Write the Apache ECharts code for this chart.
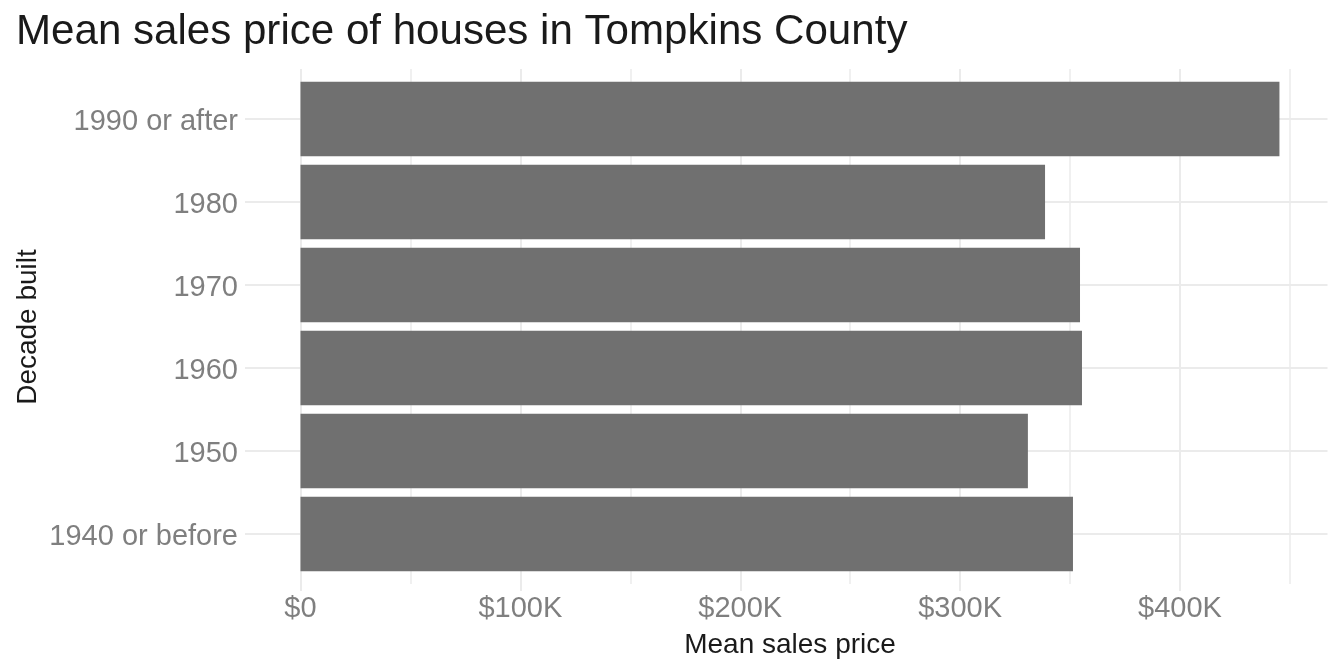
<!DOCTYPE html>
<html><head><meta charset="utf-8">
<script src="https://cdn.jsdelivr.net/npm/echarts@6/dist/echarts.min.js"></script>
<style>html,body{margin:0;padding:0;background:#fff}#c{width:1344px;height:672px}</style>
</head><body><div id="c"></div>
<script>
const categories = ['1940 or before', '1950', '1960', '1970', '1980', '1990 or after'];
const meanPrice = [351300, 330800, 355400, 354500, 338600, 445200];
const titleText = 'Mean sales price of houses in Tompkins County';
const xTitle = 'Mean sales price';
const yTitle = 'Decade built';

const FONT = "'Liberation Sans', Arial, Helvetica, sans-serif";
const GRID = '#EBEBEB';
const chart = echarts.init(document.getElementById('c'), null, {renderer: 'canvas'});
chart.setOption({
  animation: false,
  backgroundColor: '#ffffff',
  title: {
    text: titleText, left: 16, top: 11, padding: 0,
    textStyle: {fontFamily: FONT, fontSize: 42.1, fontWeight: 'normal', color: '#1a1a1a'}
  },
  grid: [
    {left: 300.5, right: 54, top: 69, bottom: 88},
    {left: 300.5, right: 164, top: 69, bottom: 88},
    {left: 245, right: 16.5, top: 77.5, bottom: 96.5}
  ],
  xAxis: [
    {gridIndex: 0, type: 'value', min: 0, max: 450000, interval: 50000,
     axisLine: {show: false}, axisTick: {show: false}, axisLabel: {show: false},
     splitLine: {show: true, lineStyle: {color: GRID, width: 1.5}}},
    {gridIndex: 1, type: 'value', min: 0, max: 400000, interval: 100000,
     axisLine: {show: false},
     axisTick: {show: true, length: 7, lineStyle: {color: GRID, width: 2}},
     axisLabel: {show: true, margin: 10, fontFamily: FONT, fontSize: 29, color: '#7f7f7f',
       formatter: v => v === 0 ? '$0' : '$' + (v / 1000) + 'K'},
     splitLine: {show: true, lineStyle: {color: GRID, width: 2}}},
    {gridIndex: 2, type: 'value', min: -25240, max: 467054, show: false}
  ],
  yAxis: [
    {gridIndex: 0, type: 'value', show: false},
    {gridIndex: 1, type: 'value', show: false},
    {gridIndex: 2, type: 'category', data: categories,
     axisLine: {show: false, onZero: false},
     axisTick: {show: false},
     axisLabel: {margin: 7, verticalAlign: 'top', lineHeight: 5, interval: 0,
       fontFamily: FONT, fontSize: 29, color: '#7f7f7f'},
     splitLine: {show: false}}
  ],
  series: [{
    type: 'bar', xAxisIndex: 2, yAxisIndex: 2, data: meanPrice,
    barCategoryGap: '10%', itemStyle: {color: '#707070'}, silent: true, z: 10,
    markLine: {
      silent: true, z: 1, symbol: ['none', 'none'], animation: false,
      label: {show: false}, emphasis: {disabled: true},
      lineStyle: {color: GRID, width: 2, type: 'solid'},
      data: categories.map(c => ({yAxis: c}))
    }
  }],
  graphic: [
    {type: 'text', x: 790, y: 645, silent: true,
     style: {text: xTitle, fontFamily: FONT, fontSize: 28, fill: '#1a1a1a',
       textAlign: 'center', textVerticalAlign: 'middle'}},
    {type: 'text', x: 28, y: 327, rotation: Math.PI / 2, silent: true,
     style: {text: yTitle, fontFamily: FONT, fontSize: 28, fill: '#1a1a1a',
       textAlign: 'center', textVerticalAlign: 'middle'}}
  ]
});
</script>
</body></html>
